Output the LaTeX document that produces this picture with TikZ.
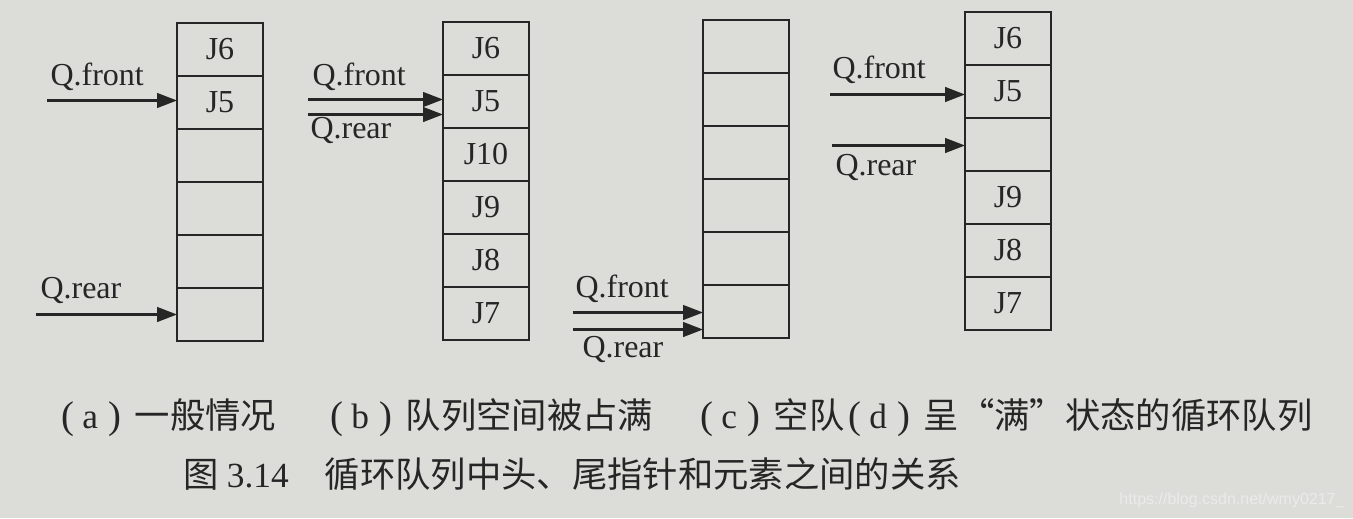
\documentclass[tikz,border=0pt]{standalone}
\usepackage{fontspec}
\setmainfont{Liberation Serif}
\newfontfamily\cjk{Noto Sans CJK SC}
\newfontfamily\wmfont{Liberation Sans}
\usetikzlibrary{arrows.meta,calc}

\definecolor{paper}{RGB}{220,220,216}
\definecolor{ink}{RGB}{38,38,38}

\tikzset{every picture/.style={line width=0.75pt}}
\tikzset{
  cell/.style={draw=ink, line width=1.4pt, anchor=north west, minimum width=64.5pt, minimum height=39.75pt, inner sep=0pt, outer sep=0pt, text=ink, font=\fontsize{24}{24}\selectfont},
  ptr/.style={draw=ink, line width=1.8pt, -{Triangle[length=15pt,width=11pt]}},
  ptrlabel/.style={anchor=base west, inner sep=0pt, text=ink, font=\fontsize{24}{24}\selectfont},
  caption/.style={anchor=base west, inner sep=0pt, text=ink, font=\fontsize{26.5}{26.5}\selectfont},
}
% one column of six cells: name, left x, top y, labels
\newcommand{\qcells}[4]{%
  \foreach \t [count=\i] in {#4}
    \node [cell] (#1\i) at (#2,{#3+(\i-1)*53}) {\t};
}
% sub-figure tag like ( a )
\newcommand{\subtag}[1]{{\fontsize{29}{29}\selectfont(}\hspace{6pt}#1\hspace{8pt}{\fontsize{29}{29}\selectfont)}\hspace{10pt}}

\begin{document}
\begin{tikzpicture}[x=0.75pt,y=0.75pt,yscale=-1,xscale=1]
\fill [paper] (0,0) rectangle (1353,518);
\useasboundingbox (0,0) rectangle (1353,518);

%(a) general case
\qcells{a}{177}{23}{J6,J5,{},{},{},{}}
\coordinate (afe) at ($(a2.west)+(0,-2)$);
\coordinate (afs) at ($(afe)+(-130,0)$);
\coordinate (are) at ($(a6.west)+(0,0)$);
\coordinate (ars) at ($(are)+(-141,0)$);
\draw [ptr] (afs) -- (afe);
\draw [ptr] (ars) -- (are);
\node [ptrlabel] (afl) at (50,85) {Q.front};
\node [ptrlabel] (arl) at (40,298) {Q.rear};

%(b) queue full
\qcells{b}{443}{22}{J6,J5,J10,J9,J8,J7}
\coordinate (bfe) at ($(b2.west)+(0,-2)$);
\coordinate (bfs) at ($(bfe)+(-135,0)$);
\coordinate (bre) at ($(b2.west)+(0,13)$);
\coordinate (brs) at ($(bre)+(-135,0)$);
\draw [ptr] (bfs) -- (bfe);
\draw [ptr] (brs) -- (bre);
\node [ptrlabel] (bfl) at (312,85) {Q.front};
\node [ptrlabel] (brl) at (310,138) {Q.rear};

%(c) empty queue
\qcells{c}{703}{20}{{},{},{},{},{},{}}
\coordinate (cfe) at ($(c6.west)+(0,1)$);
\coordinate (cfs) at ($(cfe)+(-130,0)$);
\coordinate (cre) at ($(c6.west)+(0,18)$);
\coordinate (crs) at ($(cre)+(-130,0)$);
\draw [ptr] (cfs) -- (cfe);
\draw [ptr] (crs) -- (cre);
\node [ptrlabel] (cfl) at (575,297) {Q.front};
\node [ptrlabel] (crl) at (582,357) {Q.rear};

%(d) "full" circular queue
\qcells{d}{965}{12}{J6,J5,{},J9,J8,J7}
\coordinate (dfe) at ($(d2.west)+(0,3)$);
\coordinate (dfs) at ($(dfe)+(-135,0)$);
\coordinate (dre) at ($(d3.west)+(0,1)$);
\coordinate (drs) at ($(dre)+(-133,0)$);
\draw [ptr] (dfs) -- (dfe);
\draw [ptr] (drs) -- (dre);
\node [ptrlabel] (dfl) at (832,78) {Q.front};
\node [ptrlabel] (drl) at (835,175) {Q.rear};

% captions
\node [caption] (capa) at (61,428) {\subtag{a}\cjk 一般情况};
\node [caption] (capb) at (330,428) {\subtag{b}\cjk 队列空间被占满};
\node [caption] (capc) at (700,428) {\subtag{c}\cjk 空队};
\node [caption] (capd) at (848,428) {\subtag{d}\cjk 呈“满”状态的循环队列};
\node [caption] (title) at (183,487) {\cjk 图\hspace{6pt}\rmfamily 3.14\hspace{27pt}\cjk 循环队列中头、尾指针和元素之间的关系};
\node [anchor=base east, inner sep=0pt, text=white!92!black, font=\wmfont\fontsize{12}{12}\selectfont] (wm) at (1345,504) {https://blog.csdn.net/wmy0217\_};

\end{tikzpicture}
\end{document}
